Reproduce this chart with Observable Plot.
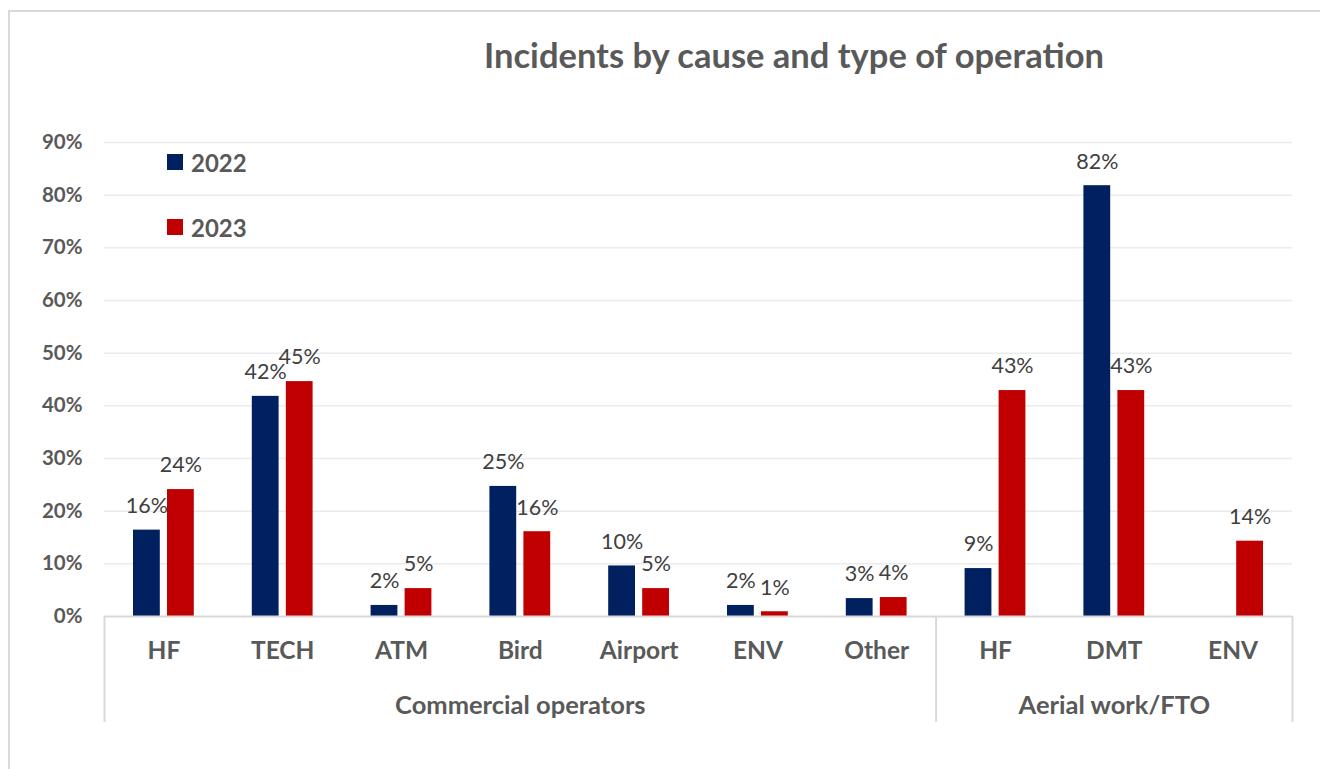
<!DOCTYPE html>
<html>
<head>
<meta charset="utf-8">
<script src="https://cdn.jsdelivr.net/npm/d3@7"></script>
<script src="https://cdn.jsdelivr.net/npm/@observablehq/plot@0.6"></script>
<style>
  html, body { margin: 0; padding: 0; background: #fff; }
  body { font-family: Lato, "Open Sans", sans-serif; }
  #wrap { position: relative; width: 1320px; height: 769px; overflow: hidden; }
  #frame { position: absolute; left: 8px; top: 10px; width: 1400px; height: 900px;
           border-left: 2px solid #d9d9d9; border-top: 2px solid #d9d9d9; box-sizing: border-box; }
  #title { position: relative; height: 110px; box-sizing: border-box; padding-left: 268px; width: 1320px;
           text-align: center; font-weight: 700; font-size: 34.5px; color: #595959; line-height: 110px; }
  #legend { position: absolute; left: 167px; top: 146px; font-weight: 700; font-size: 24px; color: #595959; }
  #legend .item { display: flex; align-items: center; height: 32px; margin-bottom: 33px; }
  #legend .sw { width: 16px; height: 16px; margin-right: 8px; }
  #chart { position: relative; }
</style>
</head>
<body>
<div id="wrap">
  <div id="frame"></div>
  <div id="title">Incidents by cause and type of operation</div>
  <div id="chart"></div>
  <div id="legend"></div>
</div>
<script>
const categories = ["HF", "TECH", "ATM", "Bird", "Airport", "ENV", "Other", "HF", "DMT", "ENV"];
const groupNames = ["Commercial operators", "Commercial operators", "Commercial operators", "Commercial operators",
  "Commercial operators", "Commercial operators", "Commercial operators", "Aerial work/FTO", "Aerial work/FTO", "Aerial work/FTO"];
const groupLabels = ["Commercial operators", "Aerial work/FTO"];
const years = ["2022", "2023"];
const values2022 = [0.164, 0.418, 0.021, 0.247, 0.096, 0.021, 0.034, 0.091, 0.818, null];
const values2023 = [0.241, 0.446, 0.053, 0.161, 0.053, 0.009, 0.036, 0.429, 0.429, 0.143];
const yTicks = [0, 0.1, 0.2, 0.3, 0.4, 0.5, 0.6, 0.7, 0.8, 0.9];
const colors = {"2022": "#002060", "2023": "#C00000"};

const keys = categories.map((c, i) => `${i}|${c}`);
const keyLabel = k => k.split("|")[1];
const rows2022 = keys.map((k, i) => ({key: k, year: "2022", value: values2022[i]})).filter(d => d.value != null);
const rows2023 = keys.map((k, i) => ({key: k, year: "2023", value: values2023[i]})).filter(d => d.value != null);

// group label positions: middle band of each group
const groupMid = groupLabels.map(g => {
  const idx = groupNames.map((n, i) => n === g ? i : -1).filter(i => i >= 0);
  return {key: keys[idx[Math.floor(idx.length / 2)]], label: g};
});
// separators: first band of each group (left edge) and last band (right edge)
const groupStarts = groupLabels.map(g => keys[groupNames.indexOf(g)]);
const lastKey = keys[keys.length - 1];

const W = 1320, H = 659, mL = 104, mR = 28, mT = 32, mB = 153;
const step = (W - mL - mR) / keys.length;
const plotH = H - mT - mB;
const fmt = v => Math.round(v * 100) + "%";
const grid = "#ebebeb", axisC = "#d9d9d9", textC = "#595959";

const plot = Plot.plot({
  width: W, height: H,
  marginLeft: mL, marginRight: mR, marginTop: mT, marginBottom: mB,
  style: {fontFamily: "Lato, 'Open Sans', sans-serif", overflow: "visible", background: "transparent"},
  x: {domain: keys, padding: 0, round: false, label: null},
  y: {domain: [0, 0.9], label: null},
  marks: [
    Plot.ruleY(yTicks.filter(t => t > 0), {stroke: grid, strokeWidth: 1.5}),
    Plot.axisY({ticks: yTicks, tickFormat: fmt, tickSize: 0, tickPadding: 22, fontSize: 20.5,
      fontWeight: 700, fill: textC, label: null}),
    Plot.axisX({tickSize: 0, tickPadding: 25, tickFormat: keyLabel, fontSize: 24.5, fontWeight: 700,
      fill: textC, label: null}),
    Plot.barY(rows2022, {x: "key", y: "value", fill: colors["2022"], insetLeft: 29, insetRight: 63}),
    Plot.barY(rows2023, {x: "key", y: "value", fill: colors["2023"], insetLeft: 63, insetRight: 29}),
    Plot.ruleY([0], {stroke: axisC, strokeWidth: 2}),
    Plot.text(rows2022, {x: "key", y: "value", text: d => fmt(d.value), dx: -17, dy: -24,
      fontSize: 21.5, fill: "#404040"}),
    Plot.text(rows2023, {x: "key", y: "value", text: d => fmt(d.value), dx: 17, dy: -24,
      fontSize: 21.5, fill: "#404040"}),
    Plot.ruleX(groupStarts, {dx: -step / 2, stroke: axisC, strokeWidth: 2, insetTop: plotH, insetBottom: -106}),
    Plot.ruleX([lastKey], {dx: step / 2, stroke: axisC, strokeWidth: 2, insetTop: plotH, insetBottom: -106}),
    Plot.text(groupMid, {x: "key", text: "label", frameAnchor: "bottom", dy: 97, fontSize: 25.5,
      fontWeight: 700, fill: textC})
  ]
});
document.getElementById("chart").appendChild(plot);

const legend = document.getElementById("legend");
years.forEach(y => {
  const item = document.createElement("div");
  item.className = "item";
  const sw = document.createElement("div");
  sw.className = "sw";
  sw.style.background = colors[y];
  const t = document.createElement("span");
  t.textContent = y;
  item.appendChild(sw);
  item.appendChild(t);
  legend.appendChild(item);
});
</script>
</body>
</html>
